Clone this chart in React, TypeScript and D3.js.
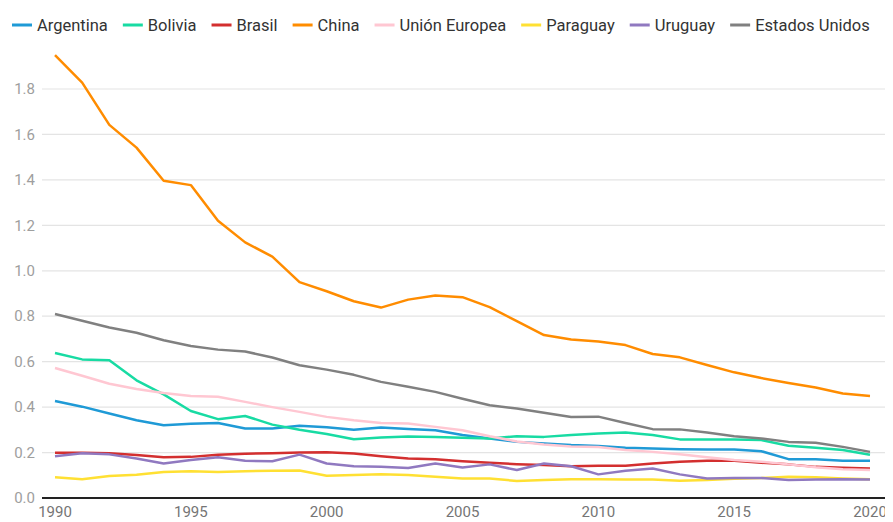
import { useEffect, useRef } from 'react';
import * as d3 from 'd3';

const years = d3.range(1990, 2021);

const argentina = [0.427, 0.402, 0.372, 0.342, 0.32, 0.327, 0.33, 0.306, 0.306, 0.318, 0.311, 0.3, 0.31, 0.304, 0.298, 0.277, 0.262, 0.247, 0.24, 0.233, 0.229, 0.221, 0.218, 0.215, 0.213, 0.213, 0.206, 0.171, 0.171, 0.164, 0.164];
const bolivia = [0.638, 0.61, 0.606, 0.518, 0.456, 0.383, 0.347, 0.361, 0.323, 0.3, 0.282, 0.259, 0.266, 0.271, 0.269, 0.265, 0.262, 0.272, 0.269, 0.277, 0.284, 0.288, 0.277, 0.258, 0.258, 0.258, 0.255, 0.23, 0.221, 0.211, 0.19];
const brasil = [0.199, 0.199, 0.197, 0.189, 0.179, 0.181, 0.19, 0.195, 0.197, 0.2, 0.201, 0.196, 0.184, 0.174, 0.17, 0.162, 0.155, 0.149, 0.145, 0.14, 0.142, 0.142, 0.152, 0.16, 0.164, 0.164, 0.155, 0.148, 0.137, 0.133, 0.13];
const china = [1.949, 1.828, 1.642, 1.542, 1.396, 1.377, 1.22, 1.125, 1.062, 0.95, 0.91, 0.866, 0.838, 0.873, 0.891, 0.884, 0.84, 0.778, 0.717, 0.698, 0.689, 0.673, 0.634, 0.619, 0.585, 0.553, 0.528, 0.506, 0.486, 0.46, 0.449];
const unionEuropea = [0.572, 0.538, 0.503, 0.48, 0.462, 0.449, 0.446, 0.423, 0.4, 0.379, 0.357, 0.342, 0.33, 0.328, 0.313, 0.298, 0.272, 0.249, 0.235, 0.227, 0.224, 0.211, 0.203, 0.193, 0.179, 0.167, 0.16, 0.148, 0.135, 0.126, 0.123];
const paraguay = [0.091, 0.083, 0.097, 0.102, 0.114, 0.118, 0.114, 0.118, 0.12, 0.121, 0.098, 0.101, 0.104, 0.101, 0.094, 0.086, 0.086, 0.075, 0.079, 0.083, 0.083, 0.081, 0.081, 0.076, 0.079, 0.085, 0.088, 0.094, 0.091, 0.086, 0.083];
const uruguay = [0.184, 0.197, 0.192, 0.174, 0.152, 0.167, 0.179, 0.164, 0.162, 0.191, 0.152, 0.14, 0.137, 0.132, 0.152, 0.134, 0.148, 0.123, 0.152, 0.14, 0.104, 0.12, 0.13, 0.104, 0.086, 0.088, 0.088, 0.079, 0.081, 0.083, 0.081];
const estadosUnidos = [0.81, 0.78, 0.75, 0.727, 0.694, 0.669, 0.653, 0.645, 0.618, 0.584, 0.565, 0.542, 0.511, 0.49, 0.467, 0.437, 0.408, 0.394, 0.375, 0.356, 0.358, 0.33, 0.303, 0.302, 0.288, 0.272, 0.262, 0.247, 0.243, 0.225, 0.203];

const seriesNames = ['Argentina', 'Bolivia', 'Brasil', 'China', 'Unión Europea', 'Paraguay', 'Uruguay', 'Estados Unidos'];
const seriesValues = [argentina, bolivia, brasil, china, unionEuropea, paraguay, uruguay, estadosUnidos];
const seriesColors = ['#1f9ad6', '#18dba3', '#d32f2f', '#ff8c00', '#ffc7d2', '#ffe033', '#9079c0', '#808080'];

const yTicks = [0, 0.2, 0.4, 0.6, 0.8, 1.0, 1.2, 1.4, 1.6, 1.8];
const xTicks = [1990, 1995, 2000, 2005, 2010, 2015, 2020];

export default function App() {
  const svgRef = useRef<SVGSVGElement>(null);

  useEffect(() => {
    const width = 893;
    const height = 522;
    const svg = d3.select(svgRef.current!);
    svg.selectAll('*').remove();
    svg.attr('width', width).attr('height', height).style('font-family', 'Roboto, sans-serif');

    const x = d3.scaleLinear().domain([1990, 2020]).range([55, 870]);
    const y = d3.scaleLinear().domain([0, 1.8]).range([498, 89]);
    const left = 42;
    const right = 885;

    // grid
    svg.append('g')
      .selectAll('line')
      .data(yTicks.filter(d => d > 0))
      .enter()
      .append('line')
      .attr('x1', left)
      .attr('x2', right)
      .attr('y1', d => y(d))
      .attr('y2', d => y(d))
      .attr('stroke', '#e4e4e4')
      .attr('stroke-width', 1.2);

    svg.append('g')
      .selectAll('text')
      .data(yTicks)
      .enter()
      .append('text')
      .attr('x', 35)
      .attr('y', d => y(d))
      .attr('dy', '0.35em')
      .attr('text-anchor', 'end')
      .attr('fill', '#9e9e9e')
      .style('font-size', '15px')
      .text(d => d.toFixed(1));

    svg.append('g')
      .selectAll('text')
      .data(xTicks)
      .enter()
      .append('text')
      .attr('x', d => x(d))
      .attr('y', 517)
      .attr('text-anchor', 'middle')
      .attr('fill', '#757575')
      .style('font-size', '15px')
      .text(d => d);

    const line = d3.line<number>()
      .x((_, i) => x(years[i]))
      .y(d => y(d));

    svg.append('g')
      .selectAll('path')
      .data(seriesValues)
      .enter()
      .append('path')
      .attr('d', d => line(d))
      .attr('fill', 'none')
      .attr('stroke', (_, i) => seriesColors[i])
      .attr('stroke-width', 2.5)
      .attr('stroke-linejoin', 'round');

    // baseline
    svg.append('line')
      .attr('x1', left)
      .attr('x2', right)
      .attr('y1', y(0))
      .attr('y2', y(0))
      .attr('stroke', '#222')
      .attr('stroke-width', 2);

    // legend
    const legend = svg.append('g');
    let cx = 12;
    seriesNames.forEach((name, i) => {
      legend.append('line')
        .attr('x1', cx)
        .attr('x2', cx + 20)
        .attr('y1', 25)
        .attr('y2', 25)
        .attr('stroke', seriesColors[i])
        .attr('stroke-width', 3);
      const t = legend.append('text')
        .attr('x', cx + 25)
        .attr('y', 25)
        .attr('dy', '0.35em')
        .attr('fill', '#333')
        .style('font-size', '16.5px')
        .text(name);
      const w = (t.node() as SVGTextElement).getComputedTextLength();
      cx += 25 + w + 15;
    });
  }, []);

  return (
    <div style={{ margin: -8 }}>
      <svg ref={svgRef}></svg>
    </div>
  );
}
